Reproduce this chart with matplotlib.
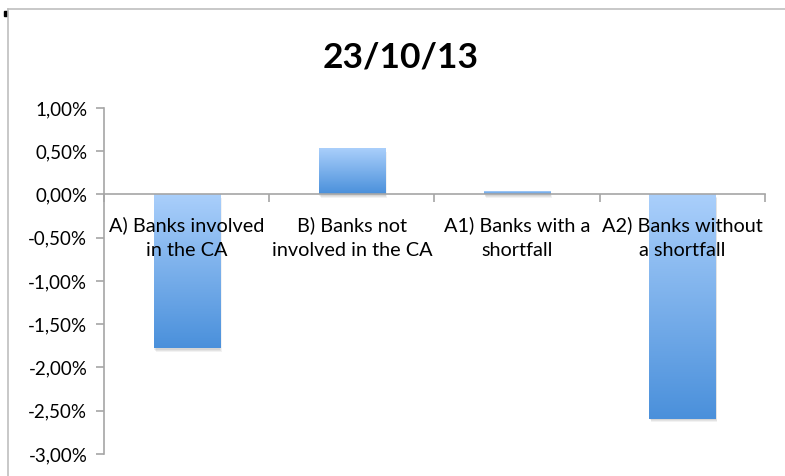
import numpy as np
import matplotlib
matplotlib.use('Agg')
import matplotlib.pyplot as plt
from matplotlib.colors import LinearSegmentedColormap
from matplotlib.patches import Rectangle
from matplotlib.lines import Line2D
from matplotlib.ticker import FuncFormatter

# data
title = '23/10/13'
categories = ['A) Banks involved\nin the CA', 'B) Banks not\ninvolved in the CA',
              'A1) Banks with a\nshortfall', 'A2) Banks without\na shortfall']
values = [-1.78, 0.53, 0.03, -2.59]
yticks = [1.0, 0.5, 0.0, -0.5, -1.0, -1.5, -2.0, -2.5, -3.0]

plt.rcParams['font.family'] = ['Lato', 'DejaVu Sans']

fig = plt.figure(figsize=(7.85, 4.76), dpi=100)
ax = fig.add_axes([0.1325, 0.0462, 0.842, 0.727])

cmap = LinearSegmentedColormap.from_list('bar', ['#aacffb', '#4a90db'])
grad = np.linspace(0, 1, 256).reshape(-1, 1)
w = 0.4
x = np.arange(len(values))
for xi, v in zip(x, values):
    lo, hi = min(0, v), max(0, v)
    # soft drop shadow
    for k, a in enumerate([0.06, 0.06, 0.05]):
        d = 0.004 * (k + 1)
        ax.add_patch(Rectangle((xi - w / 2 + d, lo - 0.02 - 0.01 * k), w, hi - lo,
                               color='black', alpha=a, lw=0, zorder=1))
    ax.imshow(grad, cmap=cmap, extent=(xi - w / 2, xi + w / 2, lo, hi),
              aspect='auto', origin='upper', zorder=2)
    ax.text(xi, -0.25, categories[xi], ha='center', va='top', fontsize=14.3,
            linespacing=1.55, color='black', zorder=3)

ax.set_xlim(-0.5, len(values) - 0.5)
ax.set_ylim(-3.0, 1.0)
ax.set_yticks(yticks)
ax.yaxis.set_major_formatter(FuncFormatter(lambda v, p: f'{v:.2f}%'.replace('.', ',')))
ax.set_xticks(np.arange(len(values) + 1) - 0.5)
ax.set_xticklabels([])

for s in ['top', 'right']:
    ax.spines[s].set_visible(False)
ax.spines['bottom'].set_position(('data', 0))
for s in ['left', 'bottom']:
    ax.spines[s].set_color('#a6a6a6')
    ax.spines[s].set_linewidth(1.2)
ax.tick_params(axis='both', colors='#a6a6a6', length=6, width=1.2, direction='out')
ax.tick_params(axis='y', labelcolor='black', labelsize=13.5, pad=6)

fig.text(0.51, 0.88, title, ha='center', va='center', fontsize=25.5, fontweight='bold')

# chart frame
fig.add_artist(Line2D([8 / 785, 8 / 785], [1 - 9 / 476, 0], color='#bfbfbf', lw=1.2))
fig.add_artist(Line2D([8 / 785, 1], [1 - 9 / 476, 1 - 9 / 476], color='#bfbfbf', lw=1.2))
fig.add_artist(Rectangle((4 / 785, 1 - 16 / 476), 3 / 785, 5 / 476, color='black'))

fig.savefig('out.png', dpi=100)
